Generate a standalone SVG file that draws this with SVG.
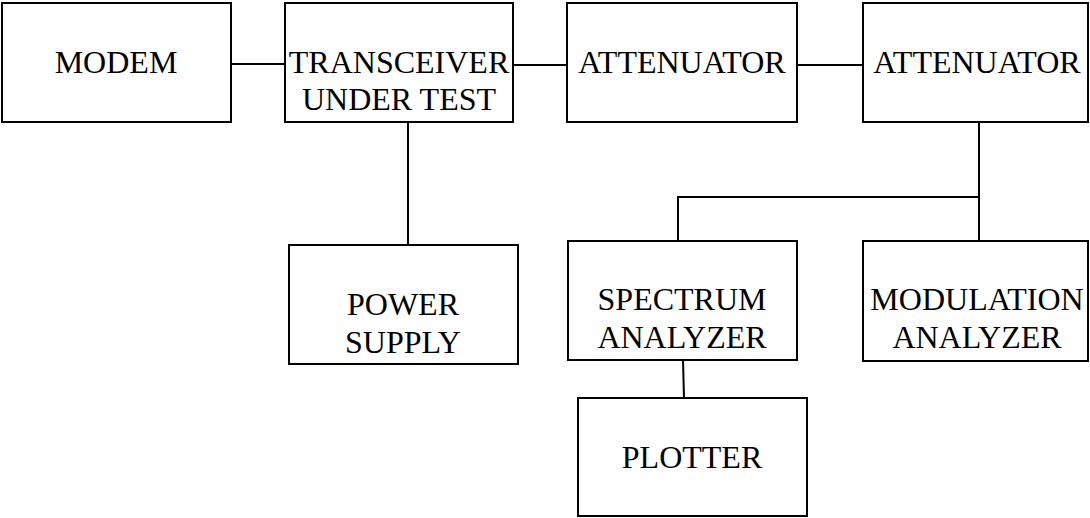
<svg xmlns="http://www.w3.org/2000/svg" width="1090" height="518" viewBox="0 0 1090 518">
<style>
rect{fill:#fff;stroke:#000;stroke-width:2}
line,polyline{fill:none;stroke:#000;stroke-width:2}
text{font-family:"Liberation Serif","Times New Roman",serif;font-size:32px;fill:#000;text-anchor:middle}
</style>
<rect x="0" y="0" width="1090" height="518" style="stroke:none"/>
<g id="connectors">
<line x1="231" y1="64" x2="285" y2="64"/>
<line x1="513" y1="65" x2="567" y2="65"/>
<line x1="797" y1="65" x2="863" y2="65"/>
<line x1="408" y1="122" x2="408" y2="245"/>
<line x1="979" y1="122" x2="979" y2="241"/>
<polyline points="979,197 678,197 678,241"/>
<line x1="683" y1="360" x2="684" y2="398"/>
</g>
<g id="modem"><rect x="2" y="3" width="229" height="119"/><text x="116" y="73">MODEM</text></g>
<g id="transceiver"><rect x="285" y="3" width="228" height="119"/><text x="399" y="73">TRANSCEIVER</text><text x="399" y="110">UNDER TEST</text></g>
<g id="attenuator1"><rect x="567" y="3" width="230" height="119"/><text x="682" y="73">ATTENUATOR</text></g>
<g id="attenuator2"><rect x="863" y="3" width="225" height="119"/><text x="977" y="73">ATTENUATOR</text></g>
<g id="power"><rect x="289" y="245" width="229" height="119"/><text x="403" y="315">POWER</text><text x="403" y="353">SUPPLY</text></g>
<g id="spectrum"><rect x="568" y="241" width="229" height="119"/><text x="682" y="310">SPECTRUM</text><text x="682" y="348">ANALYZER</text></g>
<g id="modulation"><rect x="863" y="241" width="225" height="120"/><text x="977" y="310">MODULATION</text><text x="977" y="348">ANALYZER</text></g>
<g id="plotter"><rect x="578" y="398" width="229" height="118"/><text x="692" y="468">PLOTTER</text></g>
</svg>
